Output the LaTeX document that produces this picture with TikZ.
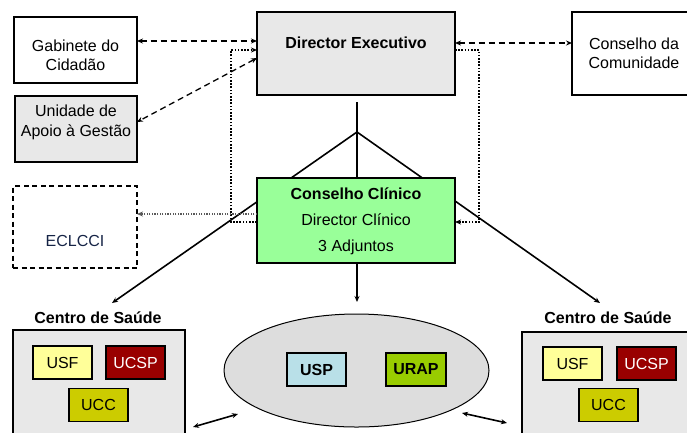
\documentclass[tikz,border=0pt]{standalone}
\usepackage{fontspec}
\setmainfont{Liberation Sans}
\usetikzlibrary{arrows.meta,shapes.geometric}
\definecolor{boxgray}{HTML}{E8E8E8}
\definecolor{ovalgray}{HTML}{DDDDDD}
\definecolor{clingreen}{HTML}{99FF99}
\definecolor{usfyellow}{HTML}{FFFF99}
\definecolor{ucspred}{HTML}{990000}
\definecolor{uccolive}{HTML}{CCCC00}
\definecolor{uspblue}{HTML}{B9E0E8}
\definecolor{urapgreen}{HTML}{99CC00}
\definecolor{eclnavy}{RGB}{22,36,70}
\begin{document}
\begin{tikzpicture}[x=1pt,y=-1pt,
  font=\fontsize{16}{19.5}\selectfont,
  every node/.style={inner sep=0pt, outer sep=0pt},
  tip/.style={-{Stealth[length=6pt,width=5pt]}},
  bitip/.style={{Stealth[length=6pt,width=5pt]}-{Stealth[length=6pt,width=5pt]}},
  plainbox/.style={draw, line width=1.3pt},
  greybox/.style={draw, line width=1.5pt, fill=boxgray},
  heavybox/.style={draw, line width=2.6pt},
  caption/.style={align=center},
  unitbox/.style={draw, line width=1.4pt, minimum width=59pt, minimum height=33pt},
  dashline/.style={line width=1.3pt, dash pattern=on 6pt off 4pt},
  dotline/.style={line width=1.9pt, dash pattern=on 1.6pt off 1.6pt},
  solidline/.style={line width=1.6pt},
]
\useasboundingbox (0,0) rectangle (687,432);

% connectors of the hierarchy (drawn first, below the boxes)
\coordinate (top) at (357,102);
\coordinate (apex) at (357,132);
\coordinate (downmid) at (357,302);
\coordinate (downleft) at (112,303);
\coordinate (downright) at (600,303);
\draw[solidline, tip] (top) -- (downmid);
\draw[solidline, tip] (apex) -- (downleft);
\draw[solidline, tip] (apex) -- (downright);

% upper level
\node[plainbox, minimum width=123pt, minimum height=66pt] (gab) at (75.5,50) {};
\node[caption] (gabtext) at (75.5,55.5) {Gabinete do\\Cidadão};
\node[greybox, minimum width=122pt, minimum height=66pt] (uag) at (76,129) {};
\node[caption] (uagtext) at (76,122.5) {Unidade de\\Apoio à Gestão};
\node[heavybox, fill=boxgray, minimum width=198pt, minimum height=83pt] (de) at (356,53.5) {};
\node[font=\fontsize{16}{19.5}\selectfont\bfseries] (detext) at (356,43) {Director Executivo};
\node[heavybox, fill=white, minimum width=124pt, minimum height=83pt] (cdc) at (634,53.5) {};
\node[caption] (cdctext) at (634,53.5) {Conselho da\\Comunidade};
\node[draw, line width=1.3pt, dash pattern=on 5pt off 3.5pt, minimum width=124pt, minimum height=82pt] (ecl) at (75,227) {};
\node[text=eclnavy] (ecltext) at (75,241) {ECLCCI};

% clinical council
\node[heavybox, fill=clingreen, minimum width=198pt, minimum height=85pt] (cc) at (356,220.5) {};
\node[caption, font=\fontsize{16}{26}\selectfont] (cctext) at (356,221.5)
      {\textbf{Conselho Clínico}\\Director Clínico\\3 Adjuntos};

% dashed links of the executive director
\draw[dashline, bitip] (gab.east |- 0,41) -- (de.west |- 0,41);
\draw[dashline, bitip] (de.west |- 0,58) -- (uag.east |- 0,122);
\draw[dashline, bitip] (de.east |- 0,43) -- (cdc.west |- 0,43);

% dotted links between the councils
\draw[dotline, tip] (cc.west |- 0,222) -- (231,222) -- (231,50) -- (de.west |- 0,50);
\draw[dotline, tip] (de.east |- 0,50) -- (479,50) -- (479,222) -- (cc.east |- 0,222);
\draw[line width=1.3pt, gray!70!black, dash pattern=on 1.3pt off 1.3pt, tip] (cc.west |- 0,214) -- (ecl.east |- 0,214);

% health centres
\node[font=\fontsize{16}{19.5}\selectfont\bfseries] (csleftlabel) at (98,318) {Centro de Saúde};
\node[heavybox, fill=boxgray, minimum width=172pt, minimum height=120pt] (csleft) at (99,390) {};
\node[unitbox, fill=usfyellow] (usfl) at (62.5,362.5) {USF};
\node[unitbox, fill=ucspred, text=white] (ucspl) at (135.5,362.5) {UCSP};
\node[unitbox, fill=uccolive] (uccl) at (98.5,405) {UCC};

\node[font=\fontsize{16}{19.5}\selectfont\bfseries] (csrightlabel) at (608,318) {Centro de Saúde};
\node[heavybox, fill=boxgray, minimum width=178pt, minimum height=120pt] (csright) at (611,392) {};
\node[unitbox, fill=usfyellow] (usfr) at (572.5,363.5) {USF};
\node[unitbox, fill=ucspred, text=white] (ucspr) at (646.5,363.5) {UCSP};
\node[unitbox, fill=uccolive] (uccr) at (608.5,405) {UCC};

% shared services
\node[ellipse, draw, line width=1pt, fill=ovalgray, minimum width=265pt, minimum height=113pt] (shared) at (356.5,370.5) {};
\node[unitbox, fill=uspblue, font=\fontsize{16}{19.5}\selectfont\bfseries] (usp) at (316.5,369.5) {USP};
\node[unitbox, fill=urapgreen, font=\fontsize{16}{19.5}\selectfont\bfseries, minimum width=60pt] (urap) at (416,369.5) {URAP};

% links between the centres and the shared services
\coordinate (lnkl1) at (193,427);
\coordinate (lnkl2) at (238,414);
\coordinate (lnkr1) at (462,413);
\coordinate (lnkr2) at (507,423);
\draw[solidline, bitip] (lnkl1) -- (lnkl2);
\draw[solidline, bitip] (lnkr1) -- (lnkr2);
\end{tikzpicture}
\end{document}
